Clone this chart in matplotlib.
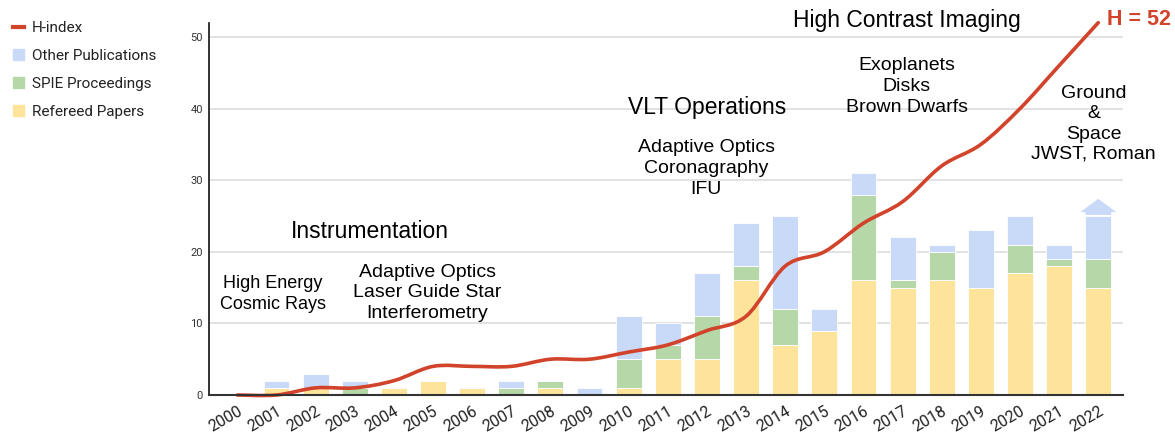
import matplotlib.pyplot as plt
from matplotlib.lines import Line2D
from matplotlib.patches import Patch, PathPatch
from matplotlib.path import Path
from matplotlib.transforms import ScaledTranslation
import numpy as np

years = list(range(2000, 2023))
refereed = [0, 1, 1, 0, 1, 2, 1, 0, 1, 0, 1, 5, 5, 16, 7, 9, 16, 15, 16, 15, 17, 18, 15]
spie = [0, 0, 0, 1, 0, 0, 0, 1, 1, 0, 4, 2, 6, 2, 5, 0, 12, 1, 4, 0, 4, 1, 4]
other = [0.1, 1, 2, 1, 0.1, 0, 0.1, 1, 0, 1, 6, 3, 6, 6, 13, 3, 3, 6, 1, 8, 4, 2, 6]
h_index = [0, 0, 1, 1, 2, 4, 4, 4, 5, 5, 6, 7, 9, 11, 18, 20, 24, 27, 32, 35, 40, 46, 52]

c_yellow = "#FDE49A"
c_green = "#B6D7A8"
c_blue = "#C9DAF8"
c_red = "#D1432A"


def smooth_path(x, y):
    """Catmull-Rom style bezier path through the points."""
    pts = np.column_stack([x, y]).astype(float)
    verts = [pts[0]]
    codes = [Path.MOVETO]
    for i in range(len(pts) - 1):
        p0 = pts[max(i - 1, 0)]
        p1 = pts[i]
        p2 = pts[i + 1]
        p3 = pts[min(i + 2, len(pts) - 1)]
        verts += [p1 + (p2 - p0) / 6, p2 - (p3 - p1) / 6, p2]
        codes += [Path.CURVE4] * 3
    return Path(verts, codes)


fig = plt.figure(figsize=(11.75, 4.36), dpi=100)
ax = fig.add_axes([0.178, 0.094, 0.778, 0.854])

x = np.array(years)
bw = 0.66
ax.bar(x, refereed, bw, color=c_yellow, edgecolor="white", linewidth=0.6, zorder=2)
ax.bar(x, spie, bw, bottom=refereed, color=c_green, edgecolor="white",
       linewidth=0.6, zorder=2)
bottom2 = np.array(refereed) + np.array(spie)
ax.bar(x, other, bw, bottom=bottom2, color=c_blue, edgecolor="white",
       linewidth=0.6, zorder=2)

# arrow on top of the last bar
top = bottom2[-1] + other[-1]
xa = x[-1]
arrow = [(xa - bw / 2, top + 0.15), (xa - bw / 2, top + 0.55), (xa - 0.46, top + 0.55),
         (xa, top + 2.4), (xa + 0.46, top + 0.55), (xa + bw / 2, top + 0.55),
         (xa + bw / 2, top + 0.15)]
ax.add_patch(plt.Polygon(arrow, closed=True, color=c_blue, lw=0, zorder=2))

ax.add_patch(PathPatch(smooth_path(x, h_index), fill=False, edgecolor=c_red,
                       lw=2.6, zorder=3, clip_on=False, capstyle="round"))

ax.set_xlim(1999.28, 2022.64)
ax.set_ylim(0, 52)
ax.set_yticks([0, 10, 20, 30, 40, 50])
ax.set_xticks(years)
ax.set_xticklabels([str(y) for y in years], rotation=30, ha="right",
                   va="top", rotation_mode="anchor", fontsize=11.5,
                   family="Roboto", color="#222222")
for lab in ax.get_xticklabels():
    lab.set_transform(lab.get_transform() + ScaledTranslation(0.06, 0, fig.dpi_scale_trans))
ax.tick_params(axis="x", length=0, pad=6)
ax.tick_params(axis="y", length=0, pad=4.5, labelsize=8, labelcolor="#333333")
for lab in ax.get_yticklabels():
    lab.set_family("Roboto")
ax.grid(axis="y", color="#DDDDDD", lw=1.2, zorder=0)
ax.set_axisbelow(True)
for s in ["top", "right"]:
    ax.spines[s].set_visible(False)
ax.spines["left"].set_color("#111111")
ax.spines["left"].set_linewidth(1.2)
ax.spines["bottom"].set_color("#333333")
ax.spines["bottom"].set_linewidth(1.5)
ax.spines["bottom"].set_zorder(4)

# annotations
tf = "Liberation Sans"
ax.text(2000.91, 14.1, "High Energy\nCosmic Rays", ha="center", va="center",
        fontsize=13, family=tf, linespacing=1.3)
ax.text(2003.38, 22.8, "Instrumentation", ha="center", va="center",
        fontsize=16.5, family=tf)
ax.text(2004.85, 14.25, "Adaptive Optics\nLaser Guide Star\nInterferometry",
        ha="center", va="center", fontsize=14, family=tf, linespacing=1.3)
ax.text(2012.0, 40.2, "VLT Operations", ha="center", va="center",
        fontsize=16.5, family=tf)
ax.text(2011.98, 31.6, "Adaptive Optics\nCoronagraphy\nIFU", ha="center",
        va="center", fontsize=14, family=tf, linespacing=1.3)
ax.text(2017.12, 52.3, "High Contrast Imaging", ha="center", va="center",
        fontsize=16.5, family=tf, clip_on=False)
ax.text(2017.1, 43.1, "Exoplanets\nDisks\nBrown Dwarfs", ha="center",
        va="center", fontsize=14, family=tf, linespacing=1.3)
ax.text(2021.88, 37.85, "Ground\n&\nSpace\nJWST, Roman", ha="center",
        va="center", fontsize=14, family=tf, linespacing=1.25)
ax.text(2022.22, 52.4, "H = 52", ha="left", va="center", fontsize=15.5,
        family=tf, weight="bold", color=c_red, clip_on=False)

handles = [Line2D([0], [0], color=c_red, lw=3),
           Patch(color=c_blue), Patch(color=c_green), Patch(color=c_yellow)]
labels = ["H-index", "Other Publications", "SPIE Proceedings", "Refereed Papers"]
fig.legend(handles, labels, loc="upper left", bbox_to_anchor=(0.011, 0.951),
           frameon=False, borderpad=0, borderaxespad=0, handlelength=0.72,
           handleheight=0.72, handletextpad=0.5, labelspacing=0.9,
           prop={"family": "Roboto", "size": 11}, labelcolor="#222222")

fig.savefig("out.png", dpi=100)
